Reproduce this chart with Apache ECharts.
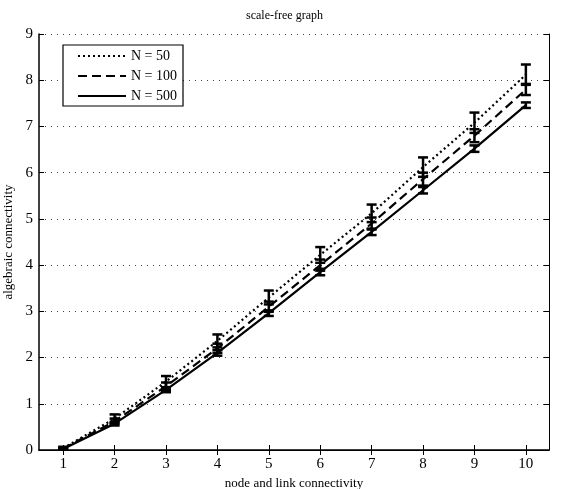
<!DOCTYPE html>
<html><head><meta charset="utf-8">
<script src="https://cdn.jsdelivr.net/npm/echarts@6/dist/echarts.min.js"></script>
<style>html,body{margin:0;padding:0;background:#fff}#c{width:569px;height:489px}</style>
</head><body><div id="c"></div>
<script>
const xValues = [1,2,3,4,5,6,7,8,9,10];
const seriesNames = ['N = 50','N = 100','N = 500'];
const mean50  = [0.04, 0.68, 1.48, 2.36, 3.30, 4.22, 5.12, 6.12, 7.08, 8.12];
const err50   = [0.03, 0.09, 0.12, 0.14, 0.15, 0.17, 0.19, 0.21, 0.22, 0.22];
const mean100 = [0.03, 0.62, 1.38, 2.20, 3.10, 4.00, 4.90, 5.86, 6.80, 7.80];
const err100  = [0.02, 0.06, 0.08, 0.10, 0.11, 0.12, 0.13, 0.14, 0.14, 0.12];
const mean500 = [0.02, 0.57, 1.30, 2.10, 2.96, 3.85, 4.72, 5.62, 6.52, 7.46];
const err500  = [0.01, 0.04, 0.05, 0.06, 0.06, 0.07, 0.07, 0.07, 0.07, 0.06];
const xTicks = [1,2,3,4,5,6,7,8,9,10];
const yTicks = [0,1,2,3,4,5,6,7,8,9];

const font = 'Liberation Serif, Times New Roman, serif';
const means = [mean50, mean100, mean500];
const errs = [err50, err100, err500];
const lineTypes = [[2,3], [9,5], 'solid'];

function errData(m, e){ return m.map((v,i)=>[xValues[i], v-e[i], v+e[i]]); }
function renderErr(params, api){
  const x = api.value(0);
  const lo = api.coord([x, api.value(1)]);
  const hi = api.coord([x, api.value(2)]);
  const w = 5;
  const st = {stroke:'#000', lineWidth:2.5};
  return {type:'group', children:[
    {type:'line', shape:{x1:lo[0],y1:lo[1],x2:hi[0],y2:hi[1]}, style:st},
    {type:'line', shape:{x1:lo[0]-w,y1:lo[1],x2:lo[0]+w,y2:lo[1]}, style:st},
    {type:'line', shape:{x1:hi[0]-w,y1:hi[1],x2:hi[0]+w,y2:hi[1]}, style:st}
  ]};
}

const series = [];
for (let k=0;k<3;k++){
  series.push({name:seriesNames[k], type:'line', data:means[k].map((v,i)=>[xValues[i], v]),
    symbol:'none', showSymbol:false,
    lineStyle:{color:'#000', width:2.2, type:lineTypes[k]}, itemStyle:{color:'#000'}, z:3});
  series.push({type:'custom', data:errData(means[k], errs[k]), renderItem:renderErr,
    encode:{x:0, y:[1,2]}, z:4, silent:true});
}

const axisLabelFont = {fontFamily:font, fontSize:15, color:'#000'};
const chart = echarts.init(document.getElementById('c'), null, {renderer:'canvas'});
chart.setOption({
  animation:false,
  backgroundColor:'#fff',
  title:{text:'scale-free graph', left:'center', top:5,
    textStyle:{fontFamily:font, fontSize:12, fontWeight:'normal', color:'#000'}},
  grid:{left:39, right:20, top:34, bottom:39, containLabel:false, outerBoundsMode:'none'},
  legend:{data:seriesNames, orient:'vertical', left:63, top:45,
    itemWidth:48, itemHeight:10, itemGap:6, padding:[4,6,3,14],
    borderColor:'#000', borderWidth:1.2, backgroundColor:'#fff',
    itemStyle:{opacity:0, borderWidth:0},
    textStyle:{fontFamily:font, fontSize:14, color:'#000'}},
  xAxis:[{type:'value', min:0.53, max:10.45,
    name:'node and link connectivity', nameLocation:'middle', nameGap:26,
    nameTextStyle:{fontFamily:font, fontSize:13, color:'#000'},
    axisLine:{lineStyle:{color:'#000', width:1.5}},
    axisTick:{inside:true, length:5, customValues:xTicks, lineStyle:{color:'#000'}},
    axisLabel:Object.assign({margin:7, customValues:xTicks}, axisLabelFont),
    splitLine:{show:false}},
   {type:'value', min:0.53, max:10.45, position:'top',
    axisLine:{lineStyle:{color:'#000', width:1}},
    axisTick:{inside:true, length:5, customValues:xTicks, lineStyle:{color:'#000'}},
    axisLabel:{show:false}, splitLine:{show:false}}],
  yAxis:[{type:'value', min:0, max:9, interval:1,
    name:'algebraic connectivity', nameLocation:'middle', nameGap:22,
    nameTextStyle:{fontFamily:font, fontSize:13, color:'#000'},
    axisLine:{show:true, lineStyle:{color:'#000', width:1.5}},
    axisTick:{show:true, inside:true, length:5, lineStyle:{color:'#000'}},
    axisLabel:Object.assign({margin:6, formatter:v=>yTicks.includes(v)?String(v):''}, axisLabelFont),
    splitLine:{show:true, lineStyle:{color:'#444', type:[1,5], width:1}}},
   {type:'value', min:0, max:9, interval:1, position:'right',
    axisLine:{show:true, lineStyle:{color:'#000', width:1}},
    axisTick:{show:true, inside:true, length:5, lineStyle:{color:'#000'}},
    axisLabel:{show:false}, splitLine:{show:false}}],
  series: series
});
</script></body></html>
